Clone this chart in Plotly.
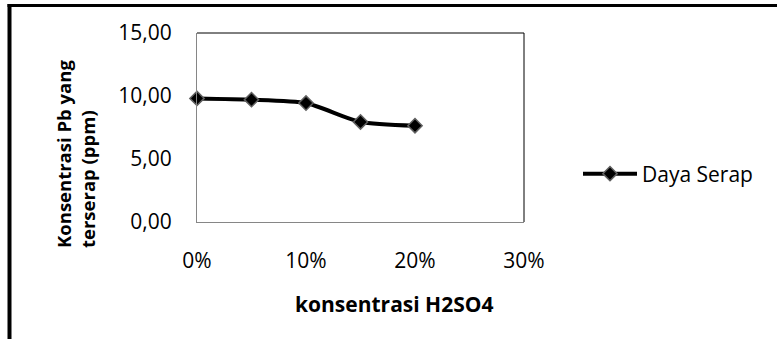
import plotly.graph_objects as go

# Data
konsentrasi_h2so4 = [0.00, 0.05, 0.10, 0.15, 0.20]
daya_serap = [9.81, 9.71, 9.44, 7.94, 7.64]
series_name = "Daya Serap"
x_title = "konsentrasi H2SO4"
y_title = "Konsentrasi Pb yang<br>terserap (ppm)"

W, H = 777, 339
L, R, T, B = 197, 253, 33, 117
pw, ph = W - L - R, H - T - B

def px(x):
    return (x - L) / pw

def py(y):
    return (H - B - y) / ph

FONT = "Open Sans"

fig = go.Figure()
fig.add_trace(go.Scatter(
    x=konsentrasi_h2so4, y=daya_serap, name=series_name,
    mode="lines+markers",
    line=dict(color="black", width=4, shape="spline", smoothing=0.6),
    marker=dict(symbol="diamond", size=11, color="black",
                line=dict(color="#606060", width=1.5)),
    cliponaxis=False,
    showlegend=True,
))

fig.update_layout(
    width=W, height=H,
    margin=dict(l=L, r=R, t=T, b=B),
    paper_bgcolor="white", plot_bgcolor="white",
    separators=",.",
    font=dict(family=FONT, size=21, color="black"),
    showlegend=True,
    legend=dict(x=px(578), y=py(174), xanchor="left", yanchor="middle",
                font=dict(family=FONT, size=21, color="black"),
                bgcolor="rgba(0,0,0,0)", itemwidth=54),
    xaxis=dict(range=[0, 0.3], tickvals=[0, 0.1, 0.2, 0.3], tickformat=".0%",
               showgrid=False, zeroline=False, showline=True, linecolor="#868686",
               linewidth=1, ticks="", ticklabelstandoff=20,
               tickfont=dict(family=FONT, size=21)),
    yaxis=dict(range=[0, 15], tickvals=[0, 5, 10, 15], tickformat=".2f",
               showgrid=False, zeroline=False, showline=True, linecolor="#868686",
               linewidth=1, ticks="", ticklabelstandoff=20,
               tickfont=dict(family=FONT, size=21)),
    annotations=[
        dict(text=f"<b>{x_title}</b>", x=px(394), y=py(304), xref="paper", yref="paper",
             xanchor="center", yanchor="middle", showarrow=False,
             font=dict(family=FONT, size=21)),
        dict(text=f"<b>{y_title}</b>", x=px(75), y=py(154), xref="paper", yref="paper",
             xanchor="center", yanchor="middle", showarrow=False, textangle=-90,
             align="left", font=dict(family=FONT, size=18.5)),
    ],
    shapes=[
        # plot area top and right edges
        dict(type="line", xref="paper", yref="paper", x0=0, x1=1, y0=1, y1=1,
             line=dict(color="black", width=1)),
        dict(type="line", xref="paper", yref="paper", x0=1, x1=1, y0=0, y1=1,
             line=dict(color="black", width=1)),
        # outer chart frame
        dict(type="line", xref="paper", yref="paper", x0=px(9.5), x1=px(9.5),
             y0=py(4), y1=py(345), line=dict(color="black", width=4)),
        dict(type="line", xref="paper", yref="paper", x0=px(7.5), x1=px(785),
             y0=py(5.5), y1=py(5.5), line=dict(color="black", width=3)),
    ],
)

fig.write_html("out.html", config={"displayModeBar": False},
               post_script="document.body.style.margin='0';")
